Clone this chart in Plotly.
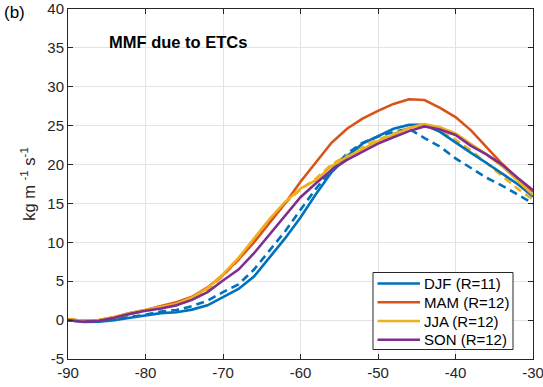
import plotly.graph_objects as go

lat = [-90, -88, -86, -84, -82, -80, -78, -76, -74, -72, -70, -68, -66, -64, -62, -60,
       -58, -56, -54, -52, -50, -48, -46, -44, -42, -40, -38, -36, -34, -32, -30]

djf = [0.0, -0.25, -0.2, 0.0, 0.3, 0.6, 0.9, 1.0, 1.35, 1.9, 3.0, 4.0, 5.6, 8.0, 10.5, 13.2,
       16.2, 19.0, 21.0, 22.7, 23.7, 24.6, 25.1, 25.1, 24.2, 22.8, 21.5, 20.2, 18.9, 17.5, 15.9]
djf_d = [0.0, -0.2, -0.1, 0.1, 0.4, 0.7, 1.1, 1.3, 1.8, 2.5, 3.6, 4.6, 6.5, 9.0, 11.4, 14.2,
         16.9, 19.3, 21.4, 22.8, 23.6, 24.2, 24.6, 23.4, 22.3, 20.8, 19.6, 18.3, 17.3, 16.1, 15.0]
mam = [0.1, -0.1, 0.0, 0.4, 0.9, 1.3, 1.8, 2.3, 3.0, 4.2, 5.8, 7.8, 10.0, 12.5, 15.0, 17.8,
       20.3, 22.8, 24.6, 25.9, 26.9, 27.8, 28.4, 28.3, 27.3, 26.1, 24.4, 22.3, 20.1, 18.2, 16.5]
jja = [0.1, -0.1, 0.0, 0.4, 0.9, 1.3, 1.7, 2.1, 2.9, 4.1, 5.9, 8.0, 10.5, 13.0, 15.2, 16.9,
       18.0, 19.8, 21.0, 22.0, 23.0, 23.8, 24.7, 25.2, 24.8, 24.0, 22.7, 21.3, 19.8, 18.0, 16.1]
jja_d = [0.1, -0.1, 0.0, 0.3, 0.8, 1.2, 1.5, 1.9, 2.7, 3.9, 5.7, 7.7, 10.2, 12.7, 15.0, 16.8,
         18.2, 20.0, 21.2, 22.3, 23.2, 24.0, 24.7, 25.0, 24.3, 23.2, 21.8, 20.2, 18.6, 16.9, 15.5]
son = [0.0, -0.2, -0.1, 0.3, 0.8, 1.2, 1.5, 1.9, 2.6, 3.6, 5.1, 6.5, 8.6, 11.0, 13.5, 15.8,
       17.6, 19.3, 20.6, 21.7, 22.7, 23.5, 24.3, 24.9, 24.5, 23.8, 22.4, 21.3, 20.0, 18.3, 16.7]

names = ["DJF (R=11)", "MAM (R=12)", "JJA (R=12)", "SON (R=12)"]
colors = ["#0072BD", "#D95319", "#EDB120", "#7E2F8E"]

xticks = [-90, -80, -70, -60, -50, -40, -30]
yticks = [-5, 0, 5, 10, 15, 20, 25, 30, 35, 40]

FONT = "Liberation Sans, Arial, Helvetica"
INK = "#262626"

fig = go.Figure()
lw = 2.6
# dashed reference lines
fig.add_trace(go.Scatter(x=lat, y=djf_d, mode="lines", showlegend=False,
                         line=dict(color=colors[0], width=lw, dash="8px,5px")))
fig.add_trace(go.Scatter(x=lat, y=jja_d, mode="lines", showlegend=False,
                         line=dict(color=colors[2], width=lw, dash="8px,5px")))
for nm, ys, c in zip(names, [djf, mam, jja, son], colors):
    fig.add_trace(go.Scatter(x=lat, y=ys, mode="lines", name=nm, showlegend=False,
                             line=dict(color=c, width=lw)))

axis_common = dict(showline=True, linecolor=INK, linewidth=1, mirror="ticks",
                   ticks="inside", ticklen=5, tickcolor=INK, tickwidth=1,
                   showgrid=True, gridcolor="#e3e3e3", gridwidth=1, zeroline=False,
                   ticklabeloverflow="allow",
                   tickfont=dict(family=FONT, size=15, color=INK))

fig.update_xaxes(range=[-90, -30], tickvals=xticks, ticktext=[str(v) for v in xticks],
                 **axis_common)
fig.update_yaxes(range=[-5, 40], tickvals=yticks, ticktext=[str(v) for v in yticks],
                 title=dict(text="kg m <sup>-1</sup> s<sup>-1</sup>", standoff=7,
                            font=dict(family=FONT, size=16.5, color=INK)),
                 **axis_common)

fig.add_annotation(text="(b)", xref="paper", yref="paper", x=-0.142, y=0.989,
                   xanchor="left", yanchor="middle", showarrow=False,
                   font=dict(family=FONT, size=17, color="#000000"))
fig.add_annotation(text="<b>MMF due to ETCs</b>", xref="paper", yref="paper", x=0.083, y=0.906,
                   xanchor="left", yanchor="middle", showarrow=False,
                   font=dict(family=FONT, size=16.5, color="#000000"))

# legend box drawn in paper coordinates (plot area: x 68..533 px, y 9..359 px)
def px_x(p):
    return (p - 68) / 465.0

def px_y(p):
    return (359 - p) / 350.0

fig.add_shape(type="rect", xref="paper", yref="paper",
              x0=px_x(373), x1=px_x(513), y0=px_y(349.5), y1=px_y(272.5),
              line=dict(color=INK, width=1), fillcolor="white", layer="above")
rows = [283.5, 302.3, 321.0, 339.8]
for nm, c, ry in zip(names, colors, rows):
    fig.add_shape(type="line", xref="paper", yref="paper",
                  x0=px_x(377.5), x1=px_x(420), y0=px_y(ry), y1=px_y(ry),
                  line=dict(color=c, width=lw), layer="above")
    fig.add_annotation(text=nm, xref="paper", yref="paper", x=px_x(421.5), y=px_y(ry),
                       xanchor="left", yanchor="middle", showarrow=False,
                       font=dict(family=FONT, size=15, color="#000000"))

fig.update_layout(
    width=543, height=387,
    margin=dict(l=68, r=10, t=9, b=28, autoexpand=False),
    paper_bgcolor="white", plot_bgcolor="white",
    showlegend=False,
)

fig.write_html("out.html")
